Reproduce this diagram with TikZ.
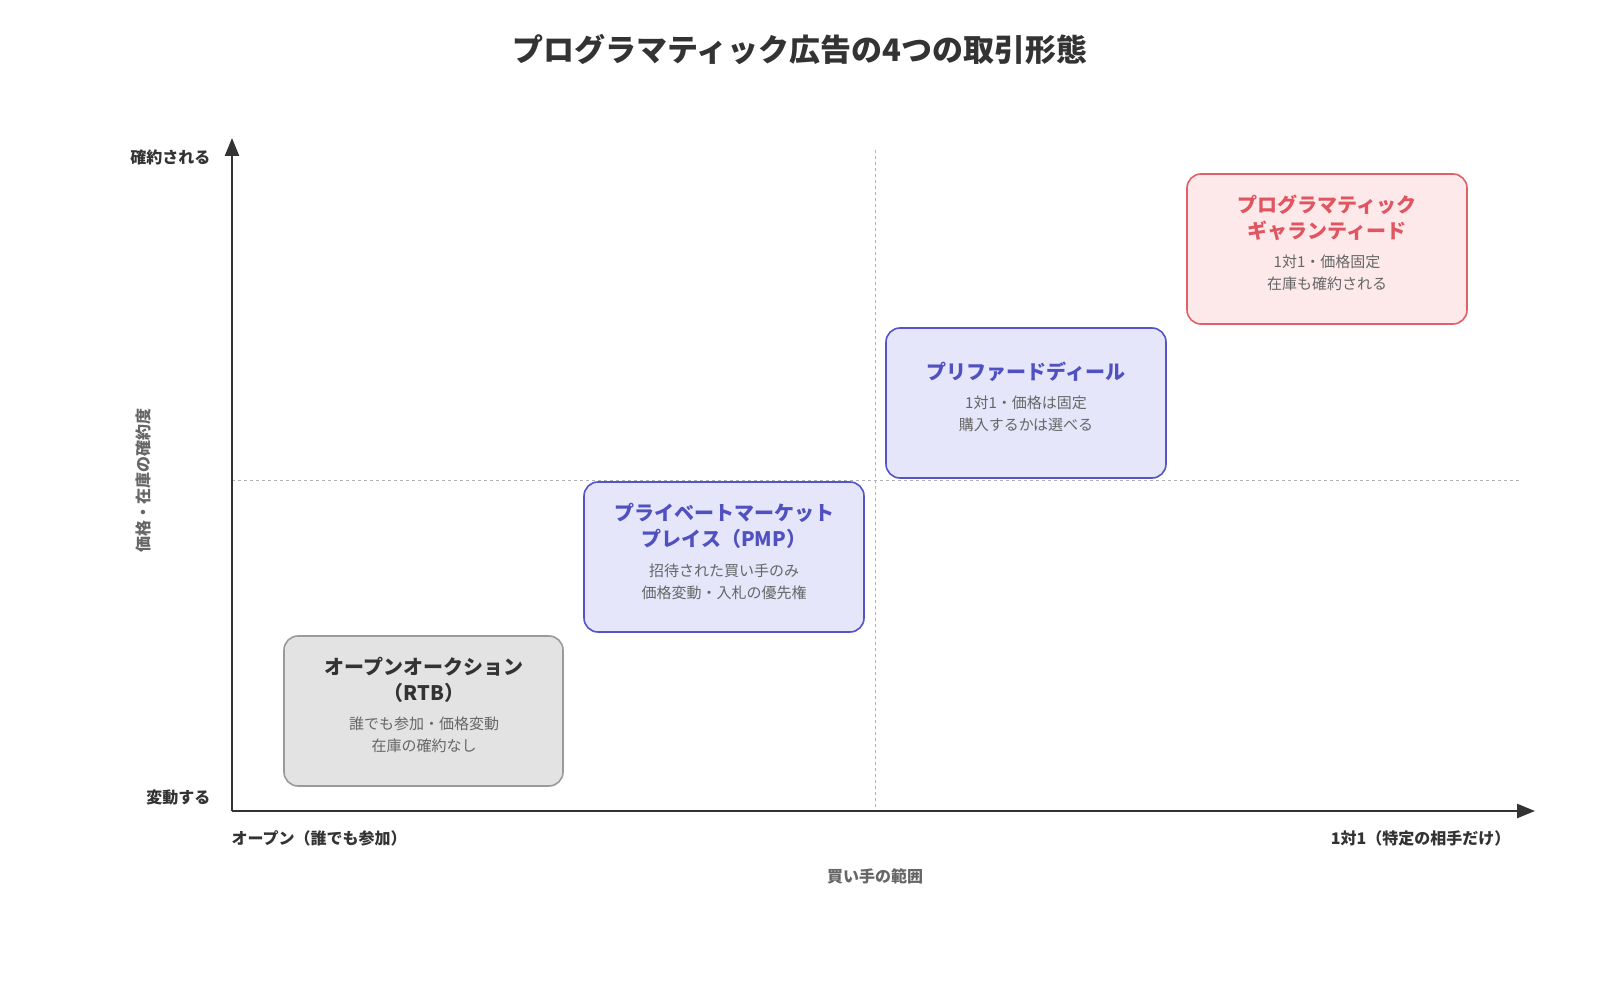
\documentclass[tikz,border=0pt]{standalone}
\usepackage{fontspec}
\setmainfont{Noto Sans CJK JP}
\newfontfamily\jpb{Noto Sans CJK JP}[BoldFont={* Bold}]
\usetikzlibrary{arrows.meta}
\definecolor{ink}{HTML}{333333}
\definecolor{sub}{HTML}{666666}
\definecolor{gfill}{HTML}{E3E3E3}\definecolor{gline}{HTML}{9A9A9A}
\definecolor{bfill}{HTML}{E5E6FA}\definecolor{bline}{HTML}{5454C8}\definecolor{btext}{HTML}{5050C0}
\definecolor{rfill}{HTML}{FDE8EA}\definecolor{rline}{HTML}{E06068}\definecolor{rtext}{HTML}{E05560}
\begin{document}
\begin{tikzpicture}[x=1pt,y=-1pt,
  box/.style={draw,line width=1.6pt,rounded corners=14pt},
  bt/.style={font=\bfseries\fontsize{20}{26}\selectfont,align=center},
  bd/.style={font=\fontsize{15}{22}\selectfont,align=center,text=sub},
  lab/.style={font=\bfseries\fontsize{16}{20}\selectfont,text=ink}]
\useasboundingbox (0,0) rectangle (1600,1000);
\node[font=\bfseries\fontsize{31}{36}\selectfont,text=ink] (title) at (800,50) {プログラマティック広告の4つの取引形態};
\coordinate (o) at (232,811); \coordinate (yt) at (232,138); \coordinate (xe) at (1535,811);
\coordinate (v1) at (875,150); \coordinate (v2) at (875,811);
\coordinate (h1) at (232,480); \coordinate (h2) at (1520,480);
\draw[gray!60,dashed,line width=1pt] (v1)--(v2);
\draw[gray!60,dashed,line width=1pt] (h1)--(h2);
\draw[ink,line width=2.5pt,-{Triangle[length=18pt,width=14pt]}] (o)--(yt);
\draw[ink,line width=2.5pt,-{Triangle[length=18pt,width=14pt]}] (o)--(xe);
\node[lab,anchor=east] (l1) at (214,157) {確約される};
\node[lab,anchor=east] (l2) at (214,797) {変動する};
\node[lab,anchor=west] (l3) at (228,838) {オープン（誰でも参加）};
\node[lab,anchor=east] (l4) at (1514,838) {1対1（特定の相手だけ）};
\node[lab,text=sub] (xl) at (875,876) {買い手の範囲};
\node[lab,text=sub,rotate=90] (yl) at (143,480) {価格・在庫の確約度};
% boxes
\draw[box,fill=gfill,draw=gline] (284,636) rectangle (563,786);
\node[bt,text=ink] (t1) at (424,680) {オープンオークション\\（RTB）};
\node[bd] (d1) at (424,735) {誰でも参加・価格変動\\在庫の確約なし};
\draw[box,fill=bfill,draw=bline] (584,482) rectangle (864,632);
\node[bt,text=btext] (t2) at (724,526) {プライベートマーケット\\プレイス（PMP）};
\node[bd] (d2) at (724,582) {招待された買い手のみ\\価格変動・入札の優先権};
\draw[box,fill=bfill,draw=bline] (886,328) rectangle (1166,478);
\node[bt,text=btext] (t3) at (1026,372) {プリファードディール};
\node[bd] (d3) at (1026,414) {1対1・価格は固定\\購入するかは選べる};
\draw[box,fill=rfill,draw=rline] (1187,174) rectangle (1467,324);
\node[bt,text=rtext] (t4) at (1327,218) {プログラマティック\\ギャランティード};
\node[bd] (d4) at (1327,273) {1対1・価格固定\\在庫も確約される};
\end{tikzpicture}
\end{document}
